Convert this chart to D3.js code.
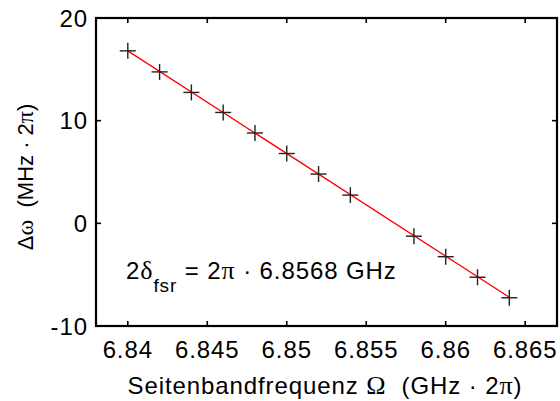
<!DOCTYPE html>
<html>
<head>
<meta charset="utf-8">
<script src="https://cdn.jsdelivr.net/npm/d3@7"></script>
<style>
  body { margin: 0; background: #fff; }
  svg { display: block; font-family: "Liberation Sans", Arial, sans-serif; }
</style>
</head>
<body>
<svg id="chart" width="560" height="401"></svg>
<script>
// Messpunkte: Seitenbandfrequenz (GHz) und Verstimmung (MHz)
const freqs = [6.840, 6.842, 6.844, 6.846, 6.848, 6.850, 6.852, 6.854, 6.858, 6.860, 6.862, 6.864];
const detuning = [16.8, 14.75, 12.75, 10.8, 8.8, 6.8, 4.8, 2.75, -1.25, -3.25, -5.25, -7.25];

// Endpunkte der linearen Anpassung
const fitFreqs = [6.840, 6.864];
const fitValues = [16.8, -7.2];

const xTicks = [6.84, 6.845, 6.85, 6.855, 6.86, 6.865];
const yTicks = [-10, 0, 10, 20];

const svg = d3.select("#chart");
const box = { left: 96, right: 557, top: 18, bottom: 326 };

const x = d3.scaleLinear().domain([6.838, 6.867]).range([box.left, box.right]);
const y = d3.scaleLinear().domain([-10, 20]).range([box.bottom, box.top]);

const tickLen = 5;
const fs = "24px";
const ls = "0.9px";

// Rahmen
svg.append("rect")
  .attr("x", box.left).attr("y", box.top)
  .attr("width", box.right - box.left).attr("height", box.bottom - box.top)
  .attr("fill", "none").attr("stroke", "#000").attr("stroke-width", 2.2);

// Ticks nach innen, auf allen vier Seiten
const ticks = svg.append("g").attr("stroke", "#000").attr("stroke-width", 1.6);
xTicks.forEach((t) => {
  ticks.append("line").attr("x1", x(t)).attr("x2", x(t)).attr("y1", box.bottom).attr("y2", box.bottom - tickLen);
  ticks.append("line").attr("x1", x(t)).attr("x2", x(t)).attr("y1", box.top).attr("y2", box.top + tickLen);
});
yTicks.forEach((t) => {
  ticks.append("line").attr("y1", y(t)).attr("y2", y(t)).attr("x1", box.left).attr("x2", box.left + tickLen);
  ticks.append("line").attr("y1", y(t)).attr("y2", y(t)).attr("x1", box.right).attr("x2", box.right - tickLen);
});

// Tick-Beschriftungen
svg.append("g").selectAll("text").data(xTicks).join("text")
  .attr("x", (d) => x(d)).attr("y", 358)
  .attr("text-anchor", "middle").style("font-size", fs).style("letter-spacing", ls)
  .attr("fill", "#000")
  .text((d) => d3.format("")(d));
svg.append("g").selectAll("text").data(yTicks).join("text")
  .attr("x", 88).attr("y", (d) => y(d)).attr("dy", "0.36em")
  .attr("text-anchor", "end").style("font-size", fs).style("letter-spacing", ls)
  .attr("fill", "#000")
  .text((d) => d);

// Fit-Gerade
const line = d3.line().x((d) => x(d[0])).y((d) => y(d[1]));
svg.append("path").datum(d3.zip(fitFreqs, fitValues))
  .attr("fill", "none").attr("stroke", "#ff0000").attr("stroke-width", 1.3)
  .attr("d", line);

// Messpunkte als Kreuze
const pts = svg.append("g").attr("stroke", "#222").attr("stroke-width", 1.4);
d3.zip(freqs, detuning).forEach(([f, v]) => {
  const cx = x(f), cy = y(v), s = 8;
  pts.append("line").attr("x1", cx - s).attr("x2", cx + s).attr("y1", cy).attr("y2", cy);
  pts.append("line").attr("x1", cx).attr("x2", cx).attr("y1", cy - s).attr("y2", cy + s);
});

const greek = "'Liberation Serif', 'Times New Roman', serif";
const gfs = "26px";

// Annotation
const ann = svg.append("text").attr("x", 126).attr("y", 279)
  .style("font-size", fs).style("letter-spacing", ls).attr("fill", "#000");
ann.append("tspan").text("2");
ann.append("tspan").style("font-family", greek).style("font-size", gfs).text("δ");
ann.append("tspan").attr("dy", 13).style("font-size", "19px").text("fsr");
ann.append("tspan").attr("dy", -13).text(" = 2");
ann.append("tspan").style("font-family", greek).style("font-size", gfs).text("π");
ann.append("tspan").text(" · 6.8568 GHz");

// x-Achsentitel
const xl = svg.append("text").attr("x", 325).attr("y", 394)
  .attr("text-anchor", "middle").style("font-size", fs).style("letter-spacing", ls)
  .attr("fill", "#000");
xl.append("tspan").text("Seitenbandfrequenz ");
xl.append("tspan").style("font-family", greek).style("font-size", gfs).text("Ω");
xl.append("tspan").text("  (GHz · 2");
xl.append("tspan").style("font-family", greek).style("font-size", gfs).text("π");
xl.append("tspan").text(")");

// y-Achsentitel
const yl = svg.append("text")
  .attr("transform", "translate(33,177) rotate(-90)")
  .attr("text-anchor", "middle").style("font-size", "22px").attr("fill", "#000");
yl.append("tspan").text("Δ");
yl.append("tspan").style("font-family", greek).style("font-size", "24px").text("ω");
yl.append("tspan").text("  (MHz · 2");
yl.append("tspan").style("font-family", greek).style("font-size", "24px").text("π");
yl.append("tspan").text(")");
svg.selectAll("text").attr("xml:space", "preserve");
</script>
</body>
</html>
